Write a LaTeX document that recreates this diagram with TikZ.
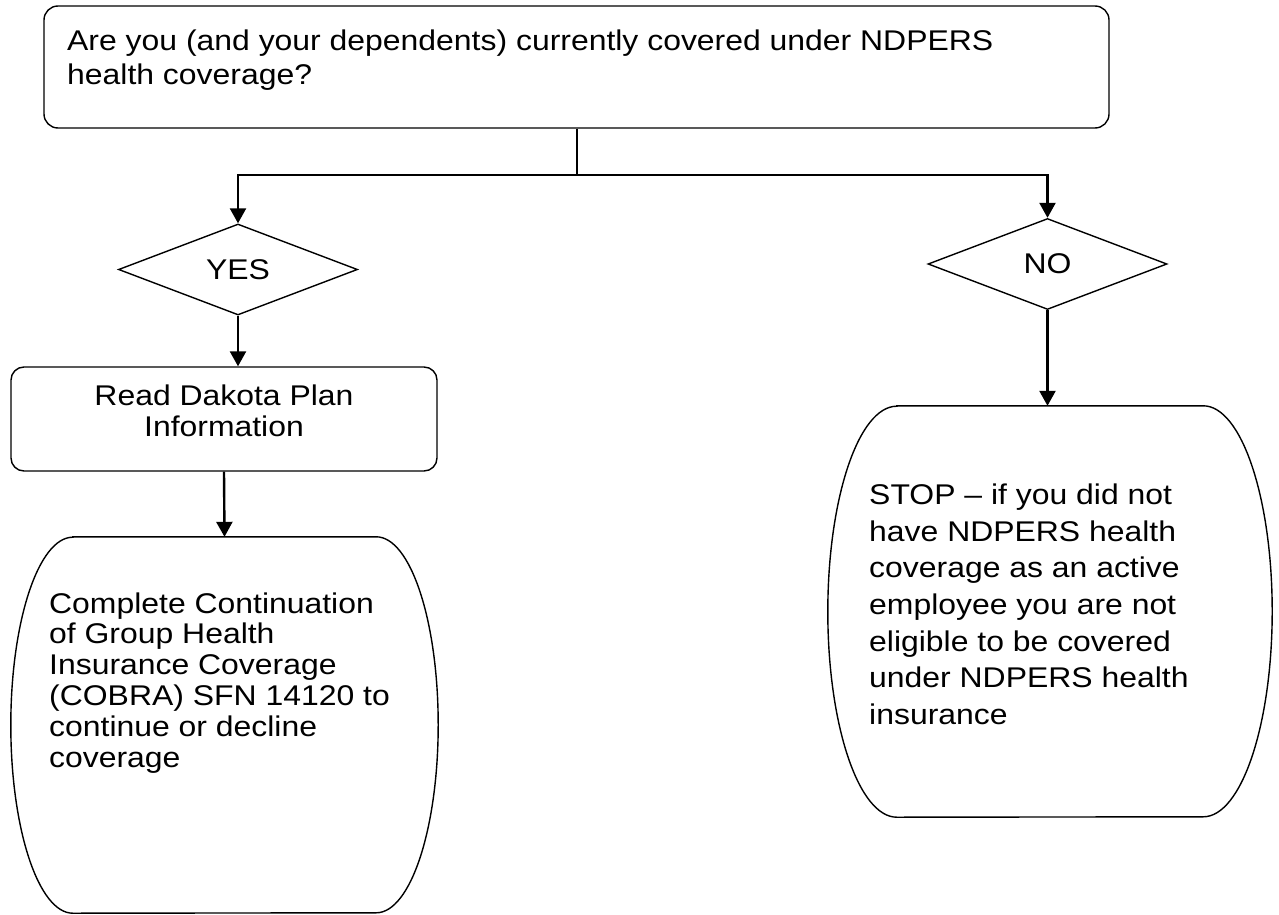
\documentclass[tikz,border=0pt]{standalone}
\usepackage{fontspec}
\setmainfont{Liberation Sans}[FakeStretch=1.12]
\usetikzlibrary{arrows.meta,shapes.geometric,calc}
\begin{document}
\begin{tikzpicture}[x=1pt,y=1pt,
  box/.style={draw=black,line width=1.4pt},
  conn/.style={draw=black,line width=2.4pt,-{Triangle[width=16pt,length=15pt]}},
  plain/.style={draw=black,line width=2.4pt},
  txt/.style={inner sep=0pt,align=left},
  dia/.style={box,diamond,inner sep=0pt,minimum width=239pt,minimum height=91pt,font={\fontsize{28.5}{30}\selectfont}},
  ghost/.style={draw=none,inner sep=0pt}]
\useasboundingbox (0,0) rectangle (1279,-915);
% top question box
\node[box,rounded corners=14pt,minimum width=1065pt,minimum height=122pt,inner sep=0pt] (q) at (576.5,-67) {};
\node[txt,anchor=base west,font={\fontsize{28.5}{34}\selectfont}] (qtext) at (67,-85)
  {Are you (and your dependents) currently covered under NDPERS\\health coverage?};
% diamonds
\node[dia] (yes) at (238,-269.5) {YES};
\node[dia] (no) at (1047.5,-264) {NO};
% read box
\node[box,rounded corners=13pt,minimum width=426pt,minimum height=104pt,inner sep=0pt] (read) at (224,-419) {};
\node[txt,align=center,anchor=base,font={\fontsize{28.5}{31}\selectfont}] (readtext) at (224,-436)
  {Read Dakota Plan\\Information};
% continuation terminator
\node[ghost,minimum width=427pt,minimum height=376pt] (cont) at (224.5,-725) {};
\draw[box] ($(cont.north west)+(62,0)$) -- ($(cont.north east)+(-62,0)$)
  arc[start angle=90,end angle=-90,x radius=62,y radius=188]
  -- ($(cont.south west)+(62,0)$)
  arc[start angle=270,end angle=90,x radius=62,y radius=188] -- cycle;
\node[txt,anchor=base west,font={\fontsize{28.5}{30.8}\selectfont}] (conttext) at (49,-767)
  {Complete Continuation\\of Group Health\\Insurance Coverage\\(COBRA) SFN 14120 to\\continue or decline\\coverage};
% stop terminator
\node[ghost,minimum width=444pt,minimum height=411pt] (stop) at (1050,-611.5) {};
\draw[box] ($(stop.north west)+(69,0)$) -- ($(stop.north east)+(-69,0)$)
  arc[start angle=90,end angle=-90,x radius=69,y radius=205.5]
  -- ($(stop.south west)+(69,0)$)
  arc[start angle=270,end angle=90,x radius=69,y radius=205.5] -- cycle;
\node[txt,anchor=base west,font={\fontsize{28.5}{36.7}\selectfont}] (stoptext) at (869,-724.5)
  {STOP – if you did not\\have NDPERS health\\coverage as an active\\employee you are not\\eligible to be covered\\under NDPERS health\\insurance};
% connectors
\coordinate (j) at (577,-175);
\draw[plain] (q.south -| j) -- (j);
\draw[conn] (j) -| (yes.north);
\draw[conn] (j) -| (no.north);
\draw[conn] (yes.south) -- (yes.south |- read.north);
\draw[conn] (read.south) -- (cont.north);
\draw[conn] (no.south) -- (no.south |- stop.north);
\end{tikzpicture}
\end{document}
